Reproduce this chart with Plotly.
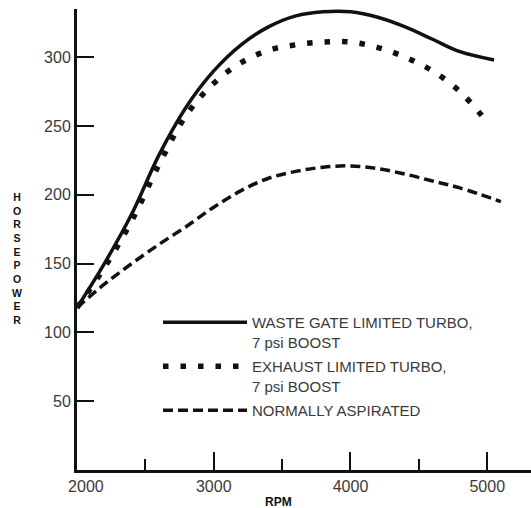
import plotly.graph_objects as go

# ---- data ----
rpm_waste = [2000, 2200, 2400, 2600, 2800, 3000, 3200, 3400, 3600, 3800, 4000, 4200, 4400, 4600, 4800, 5050]
hp_waste = [118, 150, 186, 229, 264, 290, 309, 322, 330, 333, 333, 329, 322, 313, 304, 298]

rpm_exhaust = [2000, 2200, 2400, 2600, 2800, 3000, 3200, 3400, 3600, 3800, 4000, 4200, 4400, 4600, 4800, 4990]
hp_exhaust = [118, 147, 181, 222, 258, 281, 296, 305, 309, 311, 311, 307, 300, 290, 275, 254]

rpm_na = [2000, 2200, 2400, 2600, 2800, 3000, 3200, 3400, 3600, 3800, 4000, 4200, 4400, 4600, 4800, 5100]
hp_na = [118, 135, 150, 164, 177, 191, 203, 212, 217, 220, 221, 219, 215, 210, 205, 195]

names = ["WASTE GATE LIMITED TURBO,<br>7 psi BOOST",
         "EXHAUST LIMITED TURBO,<br>7 psi BOOST",
         "NORMALLY ASPIRATED"]

x_tickvals = [2000, 3000, 4000, 5000]
x_ticktext = ["\u00a0\u00a0\u00a0\u00a02000", "3000", "4000", "5000"]
y_tickvals = [50, 100, 150, 200, 250, 300]
y_ticktext = ["50", "100", "150", "200", "250", "300"]

x_title = "RPM"
y_title = "HORSEPOWER"

FONT = "Liberation Sans"
INK = "#111111"
TXT = "#3a3a3a"

fig = go.Figure()
fig.add_trace(go.Scatter(x=rpm_waste, y=hp_waste, mode="lines", name=names[0], legendgroup="a",
                         line=dict(color=INK, width=3.5, shape="spline", smoothing=1.0)))
fig.add_trace(go.Scatter(x=rpm_exhaust, y=hp_exhaust, mode="lines", name=names[1], legendgroup="b",
                         line=dict(color=INK, width=5.5, dash="5.5px,12px", shape="spline", smoothing=1.0)))
fig.add_trace(go.Scatter(x=rpm_na, y=hp_na, mode="lines", name=names[2], legendgroup="c",
                         line=dict(color=INK, width=3.5, dash="10px,5px", shape="spline", smoothing=1.0)))

fig.update_layout(
    width=531, height=508,
    margin=dict(l=77, r=0, t=9, b=38),
    paper_bgcolor="white", plot_bgcolor="white",
    font=dict(family=FONT, size=15, color=TXT),
    showlegend=True,
    legend=dict(x=(163 - 77 - 5) / 454, y=(470 - 306) / 461, xanchor="left", yanchor="top",
                bgcolor="rgba(0,0,0,0)", itemwidth=84, tracegroupgap=2,
                font=dict(family=FONT, size=15, color=TXT), valign="top"),
    xaxis=dict(range=[2000, 5320], showline=True, linewidth=3, linecolor=INK,
               showgrid=False, zeroline=False,
               tickmode="array", tickvals=x_tickvals, ticktext=x_ticktext,
               ticks="inside", ticklen=18, tickwidth=2, tickcolor=INK,
               tickfont=dict(family=FONT, size=16, color=TXT),
               minor=dict(dtick=500, tick0=2000, ticks="inside", ticklen=11, tickwidth=2,
                          tickcolor=INK, showgrid=False)),
    yaxis=dict(range=[0, 335], showline=True, linewidth=3, linecolor=INK,
               showgrid=False, zeroline=False,
               tickmode="array", tickvals=y_tickvals, ticktext=y_ticktext,
               ticks="inside", ticklen=17, tickwidth=2, tickcolor=INK,
               tickfont=dict(family=FONT, size=16, color=TXT)),
)

fig.add_annotation(text="<b>" + x_title + "</b>", xref="x", yref="paper",
                   x=3470, y=-0.05, xanchor="center", yanchor="top", showarrow=False,
                   font=dict(family=FONT, size=12, color=INK))
fig.add_annotation(text="<b>" + "<br>".join(list(y_title)) + "</b>", xref="paper", yref="paper",
                   x=-0.132, y=(470 - 258) / 461, xanchor="center", yanchor="middle", showarrow=False,
                   font=dict(family=FONT, size=10.5, color=INK))

fig.write_html("out.html", config={"displayModeBar": False},
               post_script="document.body.style.margin='0';document.body.style.overflow='hidden';")
